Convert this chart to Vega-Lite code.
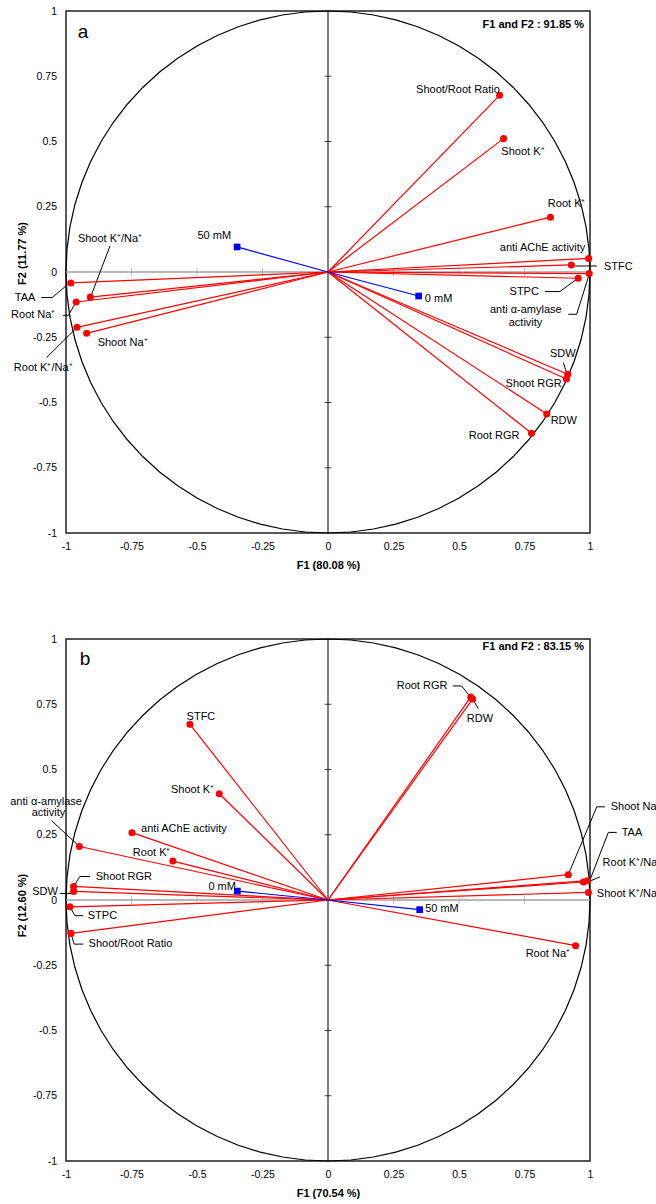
{
"$schema": "https://vega.github.io/schema/vega-lite/v6.json",
"padding": {"left": 9, "top": 5, "right": 0, "bottom": 0},
"background": "#ffffff",
"bounds": "flush",
"spacing": 106,
"config": {
  "view": {"stroke": "#222222", "strokeWidth": 1.5},
  "font": "Liberation Sans",
  "text": {"font": "Liberation Sans", "fontSize": 11, "color": "#000000"},
  "axis": {"grid": false, "ticks": false, "tickSize": 0, "domain": false, "labelFont": "Liberation Sans", "labelFontSize": 10.5, "labelColor": "#000000", "titleFont": "Liberation Sans", "titleFontSize": 11, "titleFontWeight": "bold", "titleColor": "#000000", "labelOverlap": false, "labelFlush": false, "labelBound": false},
  "axisX": {"labelPadding": 8, "titlePadding": 8},
  "axisY": {"labelPadding": 9.5, "titlePadding": 5}
},
"datasets": {
  "circle": [
    {"i":0,"x":1,"y":0},{"i":5,"x":0.9962,"y":0.0872},{"i":10,"x":0.9848,"y":0.1736},{"i":15,"x":0.9659,"y":0.2588},{"i":20,"x":0.9397,"y":0.342},{"i":25,"x":0.9063,"y":0.4226},{"i":30,"x":0.866,"y":0.5},{"i":35,"x":0.8192,"y":0.5736},{"i":40,"x":0.766,"y":0.6428},{"i":45,"x":0.7071,"y":0.7071},{"i":50,"x":0.6428,"y":0.766},{"i":55,"x":0.5736,"y":0.8192},{"i":60,"x":0.5,"y":0.866},{"i":65,"x":0.4226,"y":0.9063},{"i":70,"x":0.342,"y":0.9397},{"i":75,"x":0.2588,"y":0.9659},{"i":80,"x":0.1736,"y":0.9848},{"i":85,"x":0.0872,"y":0.9962},
    {"i":90,"x":0,"y":1},{"i":95,"x":-0.0872,"y":0.9962},{"i":100,"x":-0.1736,"y":0.9848},{"i":105,"x":-0.2588,"y":0.9659},{"i":110,"x":-0.342,"y":0.9397},{"i":115,"x":-0.4226,"y":0.9063},{"i":120,"x":-0.5,"y":0.866},{"i":125,"x":-0.5736,"y":0.8192},{"i":130,"x":-0.6428,"y":0.766},{"i":135,"x":-0.7071,"y":0.7071},{"i":140,"x":-0.766,"y":0.6428},{"i":145,"x":-0.8192,"y":0.5736},{"i":150,"x":-0.866,"y":0.5},{"i":155,"x":-0.9063,"y":0.4226},{"i":160,"x":-0.9397,"y":0.342},{"i":165,"x":-0.9659,"y":0.2588},{"i":170,"x":-0.9848,"y":0.1736},{"i":175,"x":-0.9962,"y":0.0872},
    {"i":180,"x":-1,"y":0},{"i":185,"x":-0.9962,"y":-0.0872},{"i":190,"x":-0.9848,"y":-0.1736},{"i":195,"x":-0.9659,"y":-0.2588},{"i":200,"x":-0.9397,"y":-0.342},{"i":205,"x":-0.9063,"y":-0.4226},{"i":210,"x":-0.866,"y":-0.5},{"i":215,"x":-0.8192,"y":-0.5736},{"i":220,"x":-0.766,"y":-0.6428},{"i":225,"x":-0.7071,"y":-0.7071},{"i":230,"x":-0.6428,"y":-0.766},{"i":235,"x":-0.5736,"y":-0.8192},{"i":240,"x":-0.5,"y":-0.866},{"i":245,"x":-0.4226,"y":-0.9063},{"i":250,"x":-0.342,"y":-0.9397},{"i":255,"x":-0.2588,"y":-0.9659},{"i":260,"x":-0.1736,"y":-0.9848},{"i":265,"x":-0.0872,"y":-0.9962},
    {"i":270,"x":0,"y":-1},{"i":275,"x":0.0872,"y":-0.9962},{"i":280,"x":0.1736,"y":-0.9848},{"i":285,"x":0.2588,"y":-0.9659},{"i":290,"x":0.342,"y":-0.9397},{"i":295,"x":0.4226,"y":-0.9063},{"i":300,"x":0.5,"y":-0.866},{"i":305,"x":0.5736,"y":-0.8192},{"i":310,"x":0.6428,"y":-0.766},{"i":315,"x":0.7071,"y":-0.7071},{"i":320,"x":0.766,"y":-0.6428},{"i":325,"x":0.8192,"y":-0.5736},{"i":330,"x":0.866,"y":-0.5},{"i":335,"x":0.9063,"y":-0.4226},{"i":340,"x":0.9397,"y":-0.342},{"i":345,"x":0.9659,"y":-0.2588},{"i":350,"x":0.9848,"y":-0.1736},{"i":355,"x":0.9962,"y":-0.0872},{"i":360,"x":1,"y":0}
  ],
  "ticks": [{"v":-0.75},{"v":-0.5},{"v":-0.25},{"v":0.25},{"v":0.5},{"v":0.75}],
  "one": [{"k":1}],
  "varA": [
    {"v":"Shoot/Root Ratio","x":0.655,"y":0.677},
    {"v":"Shoot K⁺","x":0.670,"y":0.511},
    {"v":"Root K⁺","x":0.849,"y":0.210},
    {"v":"anti AChE activity","x":0.995,"y":0.052},
    {"v":"STFC","x":0.929,"y":0.027},
    {"v":"anti α-amylase activity","x":0.997,"y":-0.006},
    {"v":"STPC","x":0.955,"y":-0.024},
    {"v":"SDW","x":0.915,"y":-0.392},
    {"v":"Shoot RGR","x":0.910,"y":-0.410},
    {"v":"RDW","x":0.835,"y":-0.544},
    {"v":"Root RGR","x":0.777,"y":-0.618},
    {"v":"TAA","x":-0.982,"y":-0.042},
    {"v":"Shoot K⁺/Na⁺","x":-0.907,"y":-0.096},
    {"v":"Root Na⁺","x":-0.961,"y":-0.115},
    {"v":"Root K⁺/Na⁺","x":-0.958,"y":-0.212},
    {"v":"Shoot Na⁺","x":-0.921,"y":-0.235}
  ],
  "supA": [
    {"v":"0 mM","x":0.346,"y":-0.092},
    {"v":"50 mM","x":-0.347,"y":0.096}
  ],
  "leadA": [
    {"x":-0.832,"y":0.100,"x2":-0.902,"y2":-0.085},
    {"x":-1.094,"y":-0.098,"x2":-1.053,"y2":-0.098},
    {"x":-1.053,"y":-0.098,"x2":-0.996,"y2":-0.050},
    {"x":-1.011,"y":-0.166,"x2":-0.991,"y2":-0.166},
    {"x":-0.991,"y":-0.166,"x2":-0.959,"y2":-0.111},
    {"x":-1.074,"y":-0.328,"x2":-0.962,"y2":-0.216},
    {"x":0.943,"y":0.023,"x2":1.026,"y2":0.023},
    {"x":0.828,"y":-0.075,"x2":0.885,"y2":-0.075},
    {"x":0.885,"y":-0.075,"x2":0.949,"y2":-0.028},
    {"x":0.917,"y":-0.162,"x2":0.949,"y2":-0.162},
    {"x":0.949,"y":-0.162,"x2":0.997,"y2":-0.009},
    {"x":0.898,"y":-0.347,"x2":0.913,"y2":-0.392}
  ],
  "labA": [
    {"t":"Shoot/Root Ratio","x":0.496,"y":0.696},
    {"t":"Shoot K⁺","x":0.744,"y":0.461},
    {"t":"Root K⁺","x":0.911,"y":0.259},
    {"t":"anti AChE activity","x":0.819,"y":0.093},
    {"t":"STFC","x":1.108,"y":0.020},
    {"t":"STPC","x":0.749,"y":-0.075},
    {"t":"anti α-amylase","x":0.755,"y":-0.147},
    {"t":"activity","x":0.754,"y":-0.194},
    {"t":"SDW","x":0.896,"y":-0.313},
    {"t":"Shoot RGR","x":0.785,"y":-0.430},
    {"t":"RDW","x":0.900,"y":-0.571},
    {"t":"Root RGR","x":0.634,"y":-0.628},
    {"t":"Shoot K⁺/Na⁺","x":-0.832,"y":0.125},
    {"t":"TAA","x":-1.156,"y":-0.098},
    {"t":"Root Na⁺","x":-1.125,"y":-0.166},
    {"t":"Root K⁺/Na⁺","x":-1.087,"y":-0.369},
    {"t":"Shoot Na⁺","x":-0.784,"y":-0.271},
    {"t":"0 mM","x":0.422,"y":-0.105},
    {"t":"50 mM","x":-0.434,"y":0.137}
  ],
  "tagA": [{"t":"a","x":-0.935,"y":0.920}],
  "sumA": [{"t":"F1 and F2 : 91.85 %","x":0.977,"y":0.946}],
  "varB": [
    {"v":"STFC","x":-0.527,"y":0.673},
    {"v":"Shoot K⁺","x":-0.415,"y":0.407},
    {"v":"anti AChE activity","x":-0.748,"y":0.258},
    {"v":"Root K⁺","x":-0.592,"y":0.149},
    {"v":"anti α-amylase activity","x":-0.949,"y":0.205},
    {"v":"Shoot RGR","x":-0.971,"y":0.052},
    {"v":"SDW","x":-0.971,"y":0.033},
    {"v":"STPC","x":-0.985,"y":-0.026},
    {"v":"Shoot/Root Ratio","x":-0.981,"y":-0.128},
    {"v":"Root RGR","x":0.545,"y":0.778},
    {"v":"RDW","x":0.552,"y":0.770},
    {"v":"Shoot Na⁺","x":0.917,"y":0.097},
    {"v":"TAA","x":0.990,"y":0.074},
    {"v":"Root K⁺/Na⁺","x":0.975,"y":0.069},
    {"v":"Shoot K⁺/Na⁺","x":0.994,"y":0.029},
    {"v":"Root Na⁺","x":0.945,"y":-0.175}
  ],
  "supB": [
    {"v":"0 mM","x":-0.346,"y":0.034},
    {"v":"50 mM","x":0.350,"y":-0.037}
  ],
  "leadB": [
    {"x":0.476,"y":0.820,"x2":0.510,"y2":0.820},
    {"x":0.510,"y":0.820,"x2":0.546,"y2":0.775},
    {"x":0.574,"y":0.733,"x2":0.552,"y2":0.770},
    {"x":1.057,"y":0.357,"x2":1.026,"y2":0.357},
    {"x":1.026,"y":0.357,"x2":0.917,"y2":0.097},
    {"x":1.102,"y":0.259,"x2":1.070,"y2":0.259},
    {"x":1.070,"y":0.259,"x2":1.000,"y2":0.077},
    {"x":1.038,"y":0.089,"x2":0.997,"y2":0.071},
    {"x":-1.055,"y":0.304,"x2":-0.949,"y2":0.205},
    {"x":-0.908,"y":0.090,"x2":-0.947,"y2":0.090},
    {"x":-0.947,"y":0.090,"x2":-0.971,"y2":0.052},
    {"x":-1.023,"y":0.025,"x2":-0.978,"y2":0.025},
    {"x":-0.934,"y":-0.060,"x2":-0.966,"y2":-0.060},
    {"x":-0.966,"y":-0.060,"x2":-0.985,"y2":-0.026},
    {"x":-0.934,"y":-0.169,"x2":-0.969,"y2":-0.169},
    {"x":-0.969,"y":-0.169,"x2":-0.981,"y2":-0.128}
  ],
  "labB": [
    {"t":"STFC","x":-0.485,"y":0.702},
    {"t":"Shoot K⁺","x":-0.517,"y":0.421},
    {"t":"anti AChE activity","x":-0.550,"y":0.271},
    {"t":"Root K⁺","x":-0.673,"y":0.179},
    {"t":"anti α-amylase","x":-1.076,"y":0.377},
    {"t":"activity","x":-1.067,"y":0.332},
    {"t":"Shoot RGR","x":-0.779,"y":0.087},
    {"t":"SDW","x":-1.080,"y":0.029},
    {"t":"0 mM","x":-0.404,"y":0.048},
    {"t":"STPC","x":-0.861,"y":-0.060},
    {"t":"Shoot/Root Ratio","x":-0.754,"y":-0.169},
    {"t":"Root RGR","x":0.359,"y":0.820},
    {"t":"RDW","x":0.580,"y":0.693},
    {"t":"50 mM","x":0.435,"y":-0.036},
    {"t":"Root Na⁺","x":0.839,"y":-0.207}
  ],
  "labBleft": [
    {"t":"Shoot Na⁺","x":1.079,"y":0.357},
    {"t":"TAA","x":1.121,"y":0.255},
    {"t":"Root K⁺/Na⁺","x":1.048,"y":0.140},
    {"t":"Shoot K⁺/Na⁺","x":1.026,"y":0.023}
  ],
  "tagB": [{"t":"b","x":-0.927,"y":0.924}],
  "sumB": [{"t":"F1 and F2 : 83.15 %","x":0.977,"y":0.968}]
},
"vconcat": [
  {
    "width": 524, "height": 522,
    "layer": [
      {"data": {"name": "circle"}, "mark": {"type": "line", "color": "#000000", "strokeWidth": 1.2},
       "encoding": {"x": {"field": "x", "type": "quantitative", "scale": {"domain": [-1, 1], "nice": false, "zero": false}, "axis": {"title": "F1 (80.08 %)", "values": [-1, -0.75, -0.5, -0.25, 0, 0.25, 0.5, 0.75, 1], "labelExpr": "'' + datum.value"}},
                    "y": {"field": "y", "type": "quantitative", "scale": {"domain": [-1, 1], "nice": false, "zero": false}, "axis": {"title": "F2 (11.77 %)", "titleY": 242, "values": [-1, -0.75, -0.5, -0.25, 0, 0.25, 0.5, 0.75, 1], "labelExpr": "'' + datum.value"}},
                    "order": {"field": "i", "type": "quantitative"}}},
      {"data": {"name": "one"}, "mark": {"type": "rule", "color": "#a0a0a0", "strokeWidth": 1.5},
       "encoding": {"y": {"datum": 0, "type": "quantitative", "scale": {"domain": [-1, 1], "nice": false, "zero": false}, "title": "F2 (11.77 %)"}}},
      {"data": {"name": "one"}, "mark": {"type": "rule", "color": "#000000", "strokeWidth": 1},
       "encoding": {"x": {"datum": 0, "type": "quantitative", "scale": {"domain": [-1, 1], "nice": false, "zero": false}, "title": "F1 (80.08 %)"}}},
      {"data": {"name": "ticks"}, "mark": {"type": "tick", "orient": "vertical", "color": "#a0a0a0", "size": 8, "thickness": 1},
       "encoding": {"x": {"field": "v", "type": "quantitative", "scale": {"domain": [-1, 1], "nice": false, "zero": false}, "title": "F1 (80.08 %)"},
                    "y": {"datum": 0, "type": "quantitative", "scale": {"domain": [-1, 1], "nice": false, "zero": false}, "title": "F2 (11.77 %)"}}},
      {"data": {"name": "ticks"}, "mark": {"type": "tick", "orient": "horizontal", "color": "#000000", "size": 7, "thickness": 1},
       "encoding": {"y": {"field": "v", "type": "quantitative", "scale": {"domain": [-1, 1], "nice": false, "zero": false}, "title": "F2 (11.77 %)"},
                    "x": {"datum": 0, "type": "quantitative", "scale": {"domain": [-1, 1], "nice": false, "zero": false}, "title": "F1 (80.08 %)"}}},
      {"data": {"name": "leadA"}, "mark": {"type": "rule", "color": "#000000", "strokeWidth": 1},
       "encoding": {"x": {"field": "x", "type": "quantitative", "scale": {"domain": [-1, 1], "nice": false, "zero": false}, "title": "F1 (80.08 %)"},
                    "y": {"field": "y", "type": "quantitative", "scale": {"domain": [-1, 1], "nice": false, "zero": false}, "title": "F2 (11.77 %)"},
                    "x2": {"field": "x2"}, "y2": {"field": "y2"}}},
      {"data": {"name": "varA"}, "mark": {"type": "rule", "color": "#ff0000", "strokeWidth": 1.2},
       "encoding": {"x": {"field": "x", "type": "quantitative", "scale": {"domain": [-1, 1], "nice": false, "zero": false}, "title": "F1 (80.08 %)"},
                    "y": {"field": "y", "type": "quantitative", "scale": {"domain": [-1, 1], "nice": false, "zero": false}, "title": "F2 (11.77 %)"},
                    "x2": {"datum": 0}, "y2": {"datum": 0}}},
      {"data": {"name": "supA"}, "mark": {"type": "rule", "color": "#0000ff", "strokeWidth": 1.2},
       "encoding": {"x": {"field": "x", "type": "quantitative", "scale": {"domain": [-1, 1], "nice": false, "zero": false}, "title": "F1 (80.08 %)"},
                    "y": {"field": "y", "type": "quantitative", "scale": {"domain": [-1, 1], "nice": false, "zero": false}, "title": "F2 (11.77 %)"},
                    "x2": {"datum": 0}, "y2": {"datum": 0}}},
      {"data": {"name": "varA"}, "mark": {"type": "point", "filled": true, "color": "#ff0000", "size": 50, "opacity": 1},
       "encoding": {"x": {"field": "x", "type": "quantitative", "scale": {"domain": [-1, 1], "nice": false, "zero": false}, "title": "F1 (80.08 %)"},
                    "y": {"field": "y", "type": "quantitative", "scale": {"domain": [-1, 1], "nice": false, "zero": false}, "title": "F2 (11.77 %)"}}},
      {"data": {"name": "supA"}, "mark": {"type": "square", "color": "#0000ff", "size": 45, "opacity": 1},
       "encoding": {"x": {"field": "x", "type": "quantitative", "scale": {"domain": [-1, 1], "nice": false, "zero": false}, "title": "F1 (80.08 %)"},
                    "y": {"field": "y", "type": "quantitative", "scale": {"domain": [-1, 1], "nice": false, "zero": false}, "title": "F2 (11.77 %)"}}},
      {"data": {"name": "labA"}, "mark": {"type": "text", "align": "center", "baseline": "middle", "fontSize": 11},
       "encoding": {"x": {"field": "x", "type": "quantitative", "scale": {"domain": [-1, 1], "nice": false, "zero": false}, "title": "F1 (80.08 %)"},
                    "y": {"field": "y", "type": "quantitative", "scale": {"domain": [-1, 1], "nice": false, "zero": false}, "title": "F2 (11.77 %)"},
                    "text": {"field": "t"}}},
      {"data": {"name": "tagA"}, "mark": {"type": "text", "align": "center", "baseline": "middle", "fontSize": 19},
       "encoding": {"x": {"field": "x", "type": "quantitative", "scale": {"domain": [-1, 1], "nice": false, "zero": false}, "title": "F1 (80.08 %)"},
                    "y": {"field": "y", "type": "quantitative", "scale": {"domain": [-1, 1], "nice": false, "zero": false}, "title": "F2 (11.77 %)"},
                    "text": {"field": "t"}}},
      {"data": {"name": "sumA"}, "mark": {"type": "text", "align": "right", "baseline": "middle", "fontSize": 11, "fontWeight": "bold"},
       "encoding": {"x": {"field": "x", "type": "quantitative", "scale": {"domain": [-1, 1], "nice": false, "zero": false}, "title": "F1 (80.08 %)"},
                    "y": {"field": "y", "type": "quantitative", "scale": {"domain": [-1, 1], "nice": false, "zero": false}, "title": "F2 (11.77 %)"},
                    "text": {"field": "t"}}}
    ]
  },
  {
    "width": 524, "height": 522,
    "layer": [
      {"data": {"name": "circle"}, "mark": {"type": "line", "color": "#000000", "strokeWidth": 1.2},
       "encoding": {"x": {"field": "x", "type": "quantitative", "scale": {"domain": [-1, 1], "nice": false, "zero": false}, "axis": {"title": "F1 (70.54 %)", "values": [-1, -0.75, -0.5, -0.25, 0, 0.25, 0.5, 0.75, 1], "labelExpr": "'' + datum.value"}},
                    "y": {"field": "y", "type": "quantitative", "scale": {"domain": [-1, 1], "nice": false, "zero": false}, "axis": {"title": "F2 (12.60 %)", "titleY": 266, "values": [-1, -0.75, -0.5, -0.25, 0, 0.25, 0.5, 0.75, 1], "labelExpr": "'' + datum.value"}},
                    "order": {"field": "i", "type": "quantitative"}}},
      {"data": {"name": "one"}, "mark": {"type": "rule", "color": "#a0a0a0", "strokeWidth": 1.5},
       "encoding": {"y": {"datum": 0, "type": "quantitative", "scale": {"domain": [-1, 1], "nice": false, "zero": false}, "title": "F2 (12.60 %)"}}},
      {"data": {"name": "one"}, "mark": {"type": "rule", "color": "#000000", "strokeWidth": 1},
       "encoding": {"x": {"datum": 0, "type": "quantitative", "scale": {"domain": [-1, 1], "nice": false, "zero": false}, "title": "F1 (70.54 %)"}}},
      {"data": {"name": "ticks"}, "mark": {"type": "tick", "orient": "vertical", "color": "#a0a0a0", "size": 8, "thickness": 1},
       "encoding": {"x": {"field": "v", "type": "quantitative", "scale": {"domain": [-1, 1], "nice": false, "zero": false}, "title": "F1 (70.54 %)"},
                    "y": {"datum": 0, "type": "quantitative", "scale": {"domain": [-1, 1], "nice": false, "zero": false}, "title": "F2 (12.60 %)"}}},
      {"data": {"name": "ticks"}, "mark": {"type": "tick", "orient": "horizontal", "color": "#000000", "size": 7, "thickness": 1},
       "encoding": {"y": {"field": "v", "type": "quantitative", "scale": {"domain": [-1, 1], "nice": false, "zero": false}, "title": "F2 (12.60 %)"},
                    "x": {"datum": 0, "type": "quantitative", "scale": {"domain": [-1, 1], "nice": false, "zero": false}, "title": "F1 (70.54 %)"}}},
      {"data": {"name": "leadB"}, "mark": {"type": "rule", "color": "#000000", "strokeWidth": 1},
       "encoding": {"x": {"field": "x", "type": "quantitative", "scale": {"domain": [-1, 1], "nice": false, "zero": false}, "title": "F1 (70.54 %)"},
                    "y": {"field": "y", "type": "quantitative", "scale": {"domain": [-1, 1], "nice": false, "zero": false}, "title": "F2 (12.60 %)"},
                    "x2": {"field": "x2"}, "y2": {"field": "y2"}}},
      {"data": {"name": "varB"}, "mark": {"type": "rule", "color": "#ff0000", "strokeWidth": 1.2},
       "encoding": {"x": {"field": "x", "type": "quantitative", "scale": {"domain": [-1, 1], "nice": false, "zero": false}, "title": "F1 (70.54 %)"},
                    "y": {"field": "y", "type": "quantitative", "scale": {"domain": [-1, 1], "nice": false, "zero": false}, "title": "F2 (12.60 %)"},
                    "x2": {"datum": 0}, "y2": {"datum": 0}}},
      {"data": {"name": "supB"}, "mark": {"type": "rule", "color": "#0000ff", "strokeWidth": 1.2},
       "encoding": {"x": {"field": "x", "type": "quantitative", "scale": {"domain": [-1, 1], "nice": false, "zero": false}, "title": "F1 (70.54 %)"},
                    "y": {"field": "y", "type": "quantitative", "scale": {"domain": [-1, 1], "nice": false, "zero": false}, "title": "F2 (12.60 %)"},
                    "x2": {"datum": 0}, "y2": {"datum": 0}}},
      {"data": {"name": "varB"}, "mark": {"type": "point", "filled": true, "color": "#ff0000", "size": 50, "opacity": 1},
       "encoding": {"x": {"field": "x", "type": "quantitative", "scale": {"domain": [-1, 1], "nice": false, "zero": false}, "title": "F1 (70.54 %)"},
                    "y": {"field": "y", "type": "quantitative", "scale": {"domain": [-1, 1], "nice": false, "zero": false}, "title": "F2 (12.60 %)"}}},
      {"data": {"name": "supB"}, "mark": {"type": "square", "color": "#0000ff", "size": 45, "opacity": 1},
       "encoding": {"x": {"field": "x", "type": "quantitative", "scale": {"domain": [-1, 1], "nice": false, "zero": false}, "title": "F1 (70.54 %)"},
                    "y": {"field": "y", "type": "quantitative", "scale": {"domain": [-1, 1], "nice": false, "zero": false}, "title": "F2 (12.60 %)"}}},
      {"data": {"name": "labB"}, "mark": {"type": "text", "align": "center", "baseline": "middle", "fontSize": 11},
       "encoding": {"x": {"field": "x", "type": "quantitative", "scale": {"domain": [-1, 1], "nice": false, "zero": false}, "title": "F1 (70.54 %)"},
                    "y": {"field": "y", "type": "quantitative", "scale": {"domain": [-1, 1], "nice": false, "zero": false}, "title": "F2 (12.60 %)"},
                    "text": {"field": "t"}}},
      {"data": {"name": "labBleft"}, "mark": {"type": "text", "align": "left", "baseline": "middle", "fontSize": 11},
       "encoding": {"x": {"field": "x", "type": "quantitative", "scale": {"domain": [-1, 1], "nice": false, "zero": false}, "title": "F1 (70.54 %)"},
                    "y": {"field": "y", "type": "quantitative", "scale": {"domain": [-1, 1], "nice": false, "zero": false}, "title": "F2 (12.60 %)"},
                    "text": {"field": "t"}}},
      {"data": {"name": "tagB"}, "mark": {"type": "text", "align": "center", "baseline": "middle", "fontSize": 19},
       "encoding": {"x": {"field": "x", "type": "quantitative", "scale": {"domain": [-1, 1], "nice": false, "zero": false}, "title": "F1 (70.54 %)"},
                    "y": {"field": "y", "type": "quantitative", "scale": {"domain": [-1, 1], "nice": false, "zero": false}, "title": "F2 (12.60 %)"},
                    "text": {"field": "t"}}},
      {"data": {"name": "sumB"}, "mark": {"type": "text", "align": "right", "baseline": "middle", "fontSize": 11, "fontWeight": "bold"},
       "encoding": {"x": {"field": "x", "type": "quantitative", "scale": {"domain": [-1, 1], "nice": false, "zero": false}, "title": "F1 (70.54 %)"},
                    "y": {"field": "y", "type": "quantitative", "scale": {"domain": [-1, 1], "nice": false, "zero": false}, "title": "F2 (12.60 %)"},
                    "text": {"field": "t"}}}
    ]
  }
]
}
